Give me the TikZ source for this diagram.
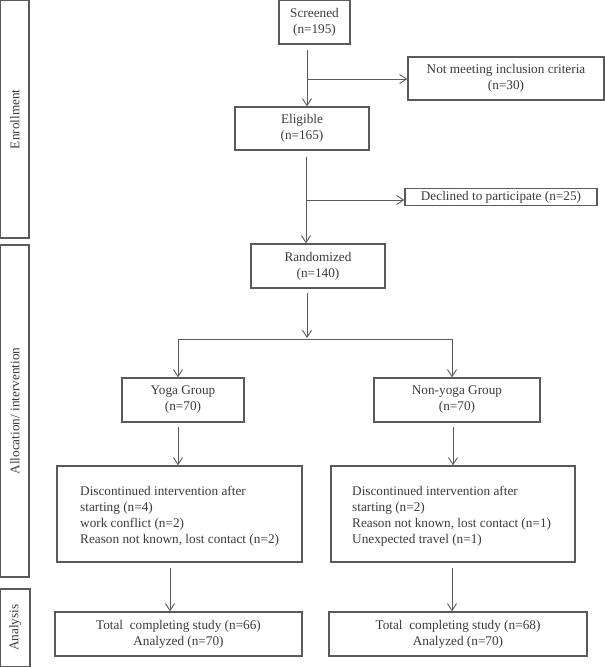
\documentclass[tikz,border=0pt]{standalone}
\usepackage{fontspec}
\setmainfont{Liberation Serif}
\usetikzlibrary{arrows.meta}
\definecolor{ln}{HTML}{5A5A5A}
\definecolor{tx}{HTML}{3A3A3A}
\begin{document}
\begin{tikzpicture}[x=1pt,y=-1pt,
  box/.style={draw=ln,line width=1.2pt,rectangle,inner sep=0pt,text=tx,align=center,
    font=\fontsize{13.25}{16}\selectfont},
  side/.style={draw=ln,line width=1.2pt,rectangle,inner sep=0pt,text=tx,
    font=\fontsize{13.25}{16}\selectfont},
  lab/.style={text=tx,rotate=90,font=\fontsize{13.25}{16}\selectfont},
  ltxt/.style={text=tx,align=left,anchor=west,inner sep=0pt,font=\fontsize{13.25}{16}\selectfont},
  arr/.style={draw=ln,line width=1pt,-{Straight Barb[length=7pt,width=9pt,line width=0.9pt]}},
  ln/.style={draw=ln,line width=1pt}]
\useasboundingbox (0,0) rectangle (605,667);
% side boxes
\node[side,minimum width=28.5pt,minimum height=237.5pt] (enr) at (14.75,119.25) {};
\node[lab] (enrl) at (enr.center) {Enrollment};
\node[side,minimum width=28.5pt,minimum height=332pt] (all) at (14.75,411) {};
\node[lab] (alll) at (all.center) {Allocation/ intervention};
\node[side,minimum width=29.5pt,minimum height=77.5pt] (ana) at (15.25,627.75) {};
\node[lab] (anal) at (ana.center) {Analysis};
% main boxes
\node[box,minimum width=71pt,minimum height=43.5pt] (scr) at (314.5,22.25) {Screened\\(n=195)};
\node[box,minimum width=196pt,minimum height=43pt] (nm) at (506,78.5) {Not meeting inclusion criteria\\(n=30)};
\node[box,minimum width=134pt,minimum height=43pt] (eli) at (302,128.5) {Eligible\\(n=165)};
\node[box,minimum width=192pt,minimum height=16.5pt] (dec) at (501,197) {Declined to participate (n=25)};
\node[box,minimum width=134pt,minimum height=44pt] (ran) at (318,266) {Randomized\\(n=140)};
\node[box,minimum width=122pt,minimum height=44pt] (yog) at (183,400) {Yoga Group\\(n=70)};
\node[box,minimum width=166pt,minimum height=44pt] (non) at (457,400) {Non-yoga Group\\(n=70)};
\node[box,minimum width=245pt,minimum height=96pt] (dl) at (179.5,514) {};
\node[ltxt] (dlt) at (80,516)
  {Discontinued intervention after\\starting (n=4)\\work conflict (n=2)\\Reason not known, lost contact (n=2)};
\node[box,minimum width=244pt,minimum height=96pt] (dr) at (453,514) {};
\node[ltxt] (drt) at (352,516)
  {Discontinued intervention after\\starting (n=2)\\Reason not known, lost contact (n=1)\\Unexpected travel (n=1)};
\node[box,minimum width=247pt,minimum height=44pt] (tl) at (178.5,634) {Total\ \ completing study (n=66)\\Analyzed (n=70)};
\node[box,minimum width=258pt,minimum height=44pt] (tr) at (458,634) {Total\ \ completing study (n=68)\\Analyzed (n=70)};
% connectors
\coordinate (a1) at (307,50);
\coordinate (b1) at (307,79);
\draw[arr] (a1) -- (a1 |- eli.north);
\draw[arr] (b1) -- (nm.west |- b1);
\coordinate (a2) at (306,157);
\coordinate (b2) at (306,200);
\draw[arr] (a2) -- (a2 |- ran.north);
\draw[arr] (b2) -- (dec.west |- b2);
\coordinate (a3) at (307,293);
\draw[arr] (a3) -- (307,338);
\coordinate (hl) at (178,339);
\coordinate (hr) at (452,339);
\draw[ln] (hl) -- (hr);
\draw[arr] (hl) -- (hl |- yog.north);
\draw[arr] (hr) -- (hr |- non.north);
\coordinate (a4) at (178,427);
\coordinate (a5) at (453,427);
\draw[arr] (a4) -- (a4 |- dl.north);
\draw[arr] (a5) -- (a5 |- dr.north);
\coordinate (a6) at (170,568);
\coordinate (a7) at (452,568);
\draw[arr] (a6) -- (a6 |- tl.north);
\draw[arr] (a7) -- (a7 |- tr.north);
\end{tikzpicture}
\end{document}
